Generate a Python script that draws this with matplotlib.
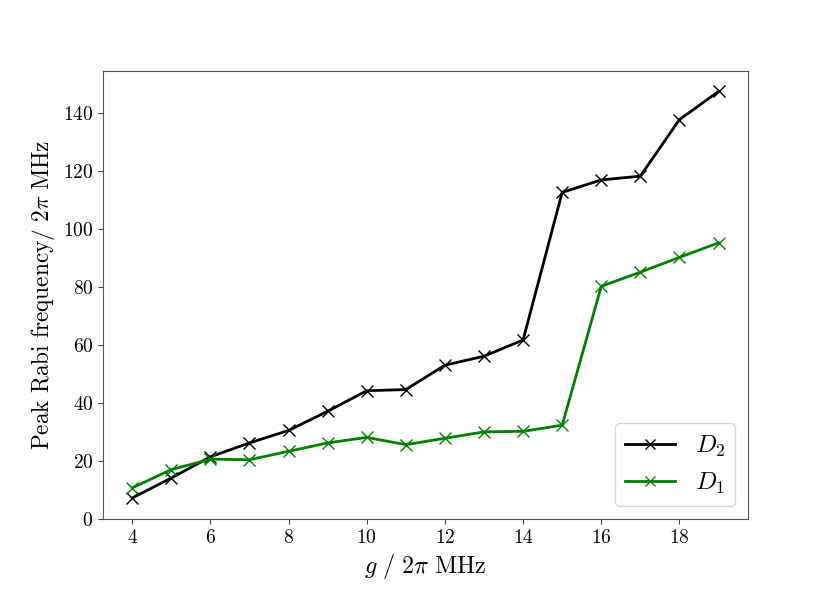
import matplotlib
matplotlib.use("Agg")
import matplotlib.pyplot as plt
from matplotlib.ticker import FuncFormatter

plt.rcParams['mathtext.fontset'] = 'cm'
plt.rcParams['font.family'] = ['DejaVu Serif']

g = [4, 5, 6, 7, 8, 9, 10, 11, 12, 13, 14, 15, 16, 17, 18, 19]
D2 = [7.2, 14.1, 21.4, 26.2, 30.5, 37.1, 44.2, 44.6, 53.0, 56.1, 61.7, 112.6, 116.9, 118.2, 137.7, 147.4]
D1 = [10.7, 17.0, 20.6, 20.4, 23.3, 26.2, 28.1, 25.6, 27.8, 30.0, 30.2, 32.3, 80.2, 85.1, 90.2, 95.2]

fig = plt.figure(figsize=(8.3, 5.93), dpi=100)
ax = fig.add_axes([0.124, 0.125, 0.777, 0.755])

ax.plot(g, D2, color='black', marker='x', markersize=9, markeredgewidth=1.0, linewidth=2, label=r'$D_2$')
ax.plot(g, D1, color='green', marker='x', markersize=9, markeredgewidth=1.0, linewidth=2, label=r'$D_1$')

ax.set_ylim(0, None)
ax.set_xticks([4, 6, 8, 10, 12, 14, 16, 18])
ax.set_yticks([0, 20, 40, 60, 80, 100, 120, 140])
fmt = FuncFormatter(lambda v, p: r'$\mathrm{%d}$' % int(round(v)))
ax.xaxis.set_major_formatter(fmt)
ax.yaxis.set_major_formatter(fmt)
ax.tick_params(labelsize=14, color='#444444')
for s in ax.spines.values():
    s.set_color('#555555')

ax.set_xlabel(r'$g\ /\ 2\pi\ \mathrm{MHz}$', fontsize=17.4)
ax.set_ylabel(r'$\mathrm{Peak\ Rabi\ frequency/}\ 2\pi\ \mathrm{MHz}$', fontsize=16.8)

ax.legend(loc='lower right', fontsize=18, markerscale=0.8)

fig.savefig('out.png', dpi=100)
